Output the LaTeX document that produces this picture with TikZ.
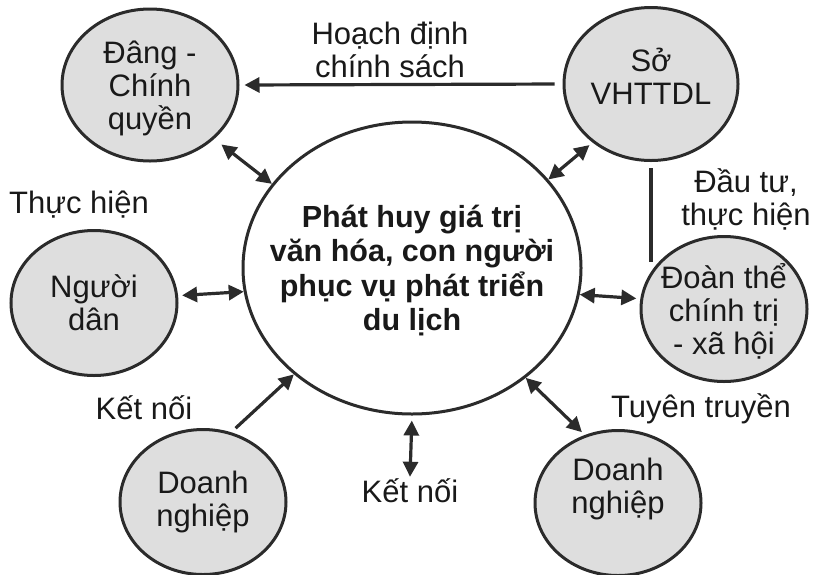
\documentclass[tikz,border=0pt]{standalone}
\usepackage{fontspec}
\setmainfont{Liberation Sans}
\usetikzlibrary{shapes.geometric,arrows.meta}
\definecolor{inkgray}{HTML}{2B2B2B}
\definecolor{bubblegray}{HTML}{DEDEDE}
\begin{document}
\begin{tikzpicture}[
		x=1pt, y=-1pt,
		every node/.style={text=black!90, font=\fontsize{31}{33}\selectfont},
		actor/.style={ellipse, draw=inkgray, fill=bubblegray, line width=3pt, minimum width=166pt, minimum height=145pt, inner xsep=-14pt, inner ysep=0pt, align=center},
		hub/.style={ellipse, draw=inkgray, fill=white, line width=3pt, minimum width=338pt, minimum height=292pt, inner xsep=-32pt, inner ysep=0pt, align=center, font=\fontsize{30.5}{34.5}\selectfont\bfseries},
		tag/.style={align=center, inner sep=2pt},
		edge/.style={draw=inkgray, line width=3.2pt},
		flow/.style={edge, -{Triangle[length=15pt,width=15pt]}},
		link/.style={edge, {Triangle[length=15pt,width=15pt]}-{Triangle[length=15pt,width=15pt]}}
	]
	\useasboundingbox (0,0) rectangle (813,574);
	\node[hub, text depth=-4pt] (hub) at (412,268) {Phát huy giá trị\\văn hóa, con người\\phục vụ phát triển\\du lịch};
	\node[actor, minimum width=176pt, minimum height=152pt, text depth=-7pt] (dang) at (150,85) {Đâng -\\Chính\\quyền};
	\node[actor, minimum width=174pt, minimum height=153pt, text depth=16pt] (so) at (651,84) {Sở\\VHTTDL};
	\node[actor] (dan) at (94,303) {Người\\dân};
	\node[actor, text depth=-6pt] (doan) at (724,309) {Đoàn thể\\chính trị\\- xã hội};
	\node[actor] (dnl) at (203,502) {Doanh\\nghiệp};
	\node[actor, text depth=34pt] (dnr) at (618,503) {Doanh\\nghiệp};

	\node[tag] (plan) at (390,50) {Hoạch định\\chính sách};
	\node[tag] (apply) at (79,205) {Thực hiện};
	\node[tag] (invest) at (746,199) {Đầu tư,\\thực hiện};
	\node[tag] (linkleft) at (144,408) {Kết nối};
	\node[tag] (linkdown) at (410,491) {Kết nối};
	\node[tag] (promo) at (701,409) {Tuyên truyền};

	\draw[flow, shorten <=8pt, shorten >=5pt] (so.west) -- (dang.east);
	\draw[edge, shorten <=6pt, shorten >=12pt] (so.south) -- (so.south |- doan.155);
	\draw[link, shorten <=9pt] (dang.-40) -- (hub.149);
	\draw[link, shorten <=4pt] (so.-135) -- (hub.33);
	\draw[link, shorten <=4pt] (dan.5) -- (hub.188);
	\draw[link, shorten >=4pt] (hub.-9) -- (doan.173);
	\draw[flow, shorten <=6pt] (dnl.68) -- (hub.222);
	\draw[link, shorten <=5pt] (hub.south) -- (linkdown.north);
	\draw[link, shorten >=4pt] (hub.-44) -- (dnr.116);
\end{tikzpicture}
\end{document}
